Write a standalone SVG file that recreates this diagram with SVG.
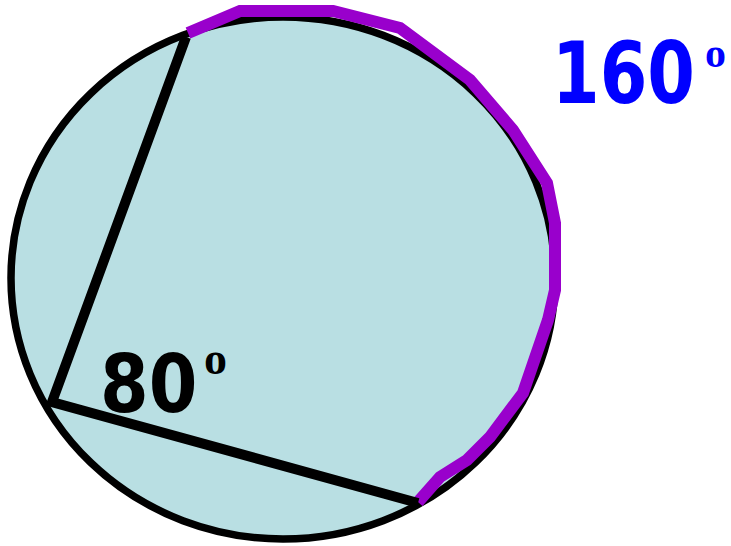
<svg xmlns="http://www.w3.org/2000/svg" width="731" height="546" viewBox="0 0 731 546">
<style>
.lbl{font-family:"DejaVu Sans","Liberation Sans",sans-serif;font-weight:bold}
.deg{font-family:"Liberation Serif","DejaVu Serif",serif;font-weight:bold}
</style>
<rect width="731" height="546" fill="#fff"/>
<g id="circle">
<ellipse cx="283" cy="278" rx="272" ry="261" fill="#B9DFE3" stroke="#000" stroke-width="7.5"/>
</g>
<g id="connectors" fill="none" stroke-linejoin="miter">
<polyline id="arc" points="188,33 240,11 333,11 400,28 470,80 513,130 547,183 555,223 555,290 548,320 523,393 490,437 467,460 440,477 418,502" stroke="#9900CC" stroke-width="12"/>
<polyline id="chords" points="186,37 52,402 418,503" stroke="#000" stroke-width="10"/>
</g>
<g id="label80">
<text class="lbl" transform="translate(100,412) scale(1,1.15)" font-size="70">80</text>
<text class="deg" x="204" y="374" font-size="46">o</text>
</g>
<g id="label160">
<text class="lbl" transform="translate(552,103) scale(1,1.24)" font-size="68.5" fill="#0000FF">160</text>
<text class="deg" x="705" y="67" font-size="42" fill="#0000FF">o</text>
</g>
</svg>
